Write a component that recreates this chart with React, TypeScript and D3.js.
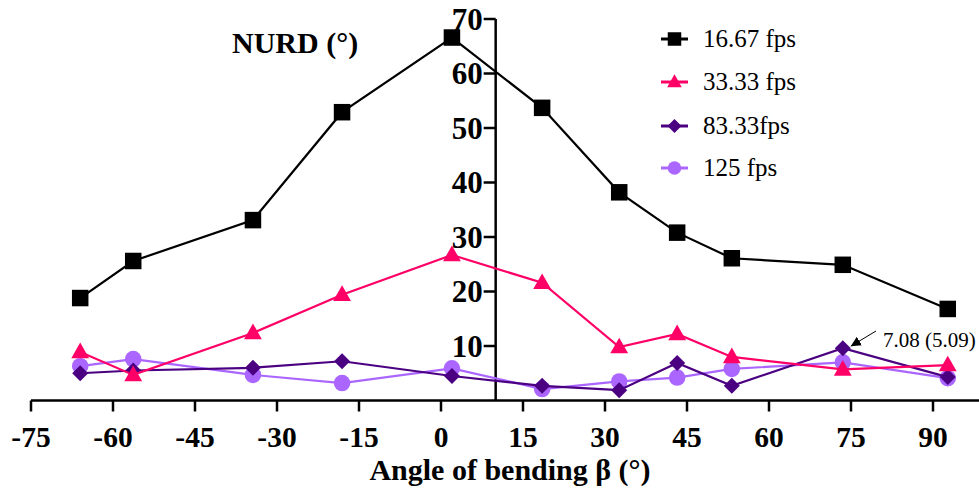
import React from "react";
import * as d3 from "d3";

const angles = [-66, -56.3, -34.4, -18.1, 2, 18.5, 32.6, 43.2, 53.2, 73.5, 92.7];
const fps16 = [18.8, 25.6, 33.1, 52.9, 66.6, 53.7, 38.2, 30.8, 26.1, 24.9, 16.8];
const fps33 = [8.9, 4.7, 12.4, 19.4, 26.7, 21.6, 9.8, 12.2, 8.0, 5.7, 6.5];
const fps83 = [5.0, 5.5, 6.0, 7.2, 4.5, 2.7, 1.9, 6.9, 2.7, 9.6, 4.3];
const fps125 = [6.3, 7.6, 4.7, 3.2, 5.9, 2.1, 3.5, 4.2, 5.8, 7.0, 4.1];
const xTicks = [-75, -60, -45, -30, -15, 0, 15, 30, 45, 60, 75, 90];
const yTicks = [10, 20, 30, 40, 50, 60, 70];
const seriesNames = ["16.67 fps", "33.33 fps", "83.33fps", "125 fps"];
const annotationText = "7.08 (5.09)";

const FONT = "'Liberation Serif', 'Times New Roman', serif";

type Series = { name: string; values: number[]; color: string; shape: string };

const series: Series[] = [
  { name: seriesNames[0], values: fps16, color: "#000000", shape: "square" },
  { name: seriesNames[1], values: fps33, color: "#FF0066", shape: "triangle" },
  { name: seriesNames[2], values: fps83, color: "#4B0082", shape: "diamond" },
  { name: seriesNames[3], values: fps125, color: "#AA66FF", shape: "circle" },
];

function Marker({ shape, x, y, color, s }: { shape: string; x: number; y: number; color: string; s: number }) {
  if (shape === "square") return <rect x={x - s / 2} y={y - s / 2} width={s} height={s} fill={color} />;
  if (shape === "triangle") {
    const w = s * 1.08;
    const h = s * 0.95;
    return <path d={`M${x},${y - h * 0.6} L${x + w / 2},${y + h * 0.4} L${x - w / 2},${y + h * 0.4} Z`} fill={color} />;
  }
  if (shape === "diamond") {
    const r = s * 0.5;
    return <path d={`M${x},${y - r} L${x + r},${y} L${x},${y + r} L${x - r},${y} Z`} fill={color} />;
  }
  return <circle cx={x} cy={y} r={s / 2} fill={color} />;
}

export default function App() {
  const x = d3.scaleLinear().domain([-75, 90]).range([31, 933]);
  const y = d3.scaleLinear().domain([0, 70]).range([400.5, 19]);
  const axisY = y(0);
  const yAxisX = x(10);
  const line = d3
    .line<number>()
    .x((_, i) => x(angles[i]))
    .y((d) => y(d));

  const order = [...series].reverse();
  const legendY = [39, 82, 126, 168];

  const annX = x(angles[9]);
  const annY = y(fps83[9]);

  return (
    <svg
      width={979}
      height={490}
      style={{ position: "absolute", left: 0, top: 0, background: "#fff" }}
      fontFamily={FONT}
    >
      <defs>
        <marker id="arrowhead" viewBox="0 0 10 10" refX="10" refY="5" markerWidth="10" markerHeight="10" orient="auto" markerUnits="userSpaceOnUse">
          <path d="M0,0 L10,5 L0,10 Z" fill="#000" />
        </marker>
      </defs>

      {/* x axis */}
      <line x1={x(-75)} x2={979} y1={axisY} y2={axisY} stroke="#000" strokeWidth={2.5} />
      {xTicks.map((t) => (
        <g key={t}>
          <line x1={x(t)} x2={x(t)} y1={axisY} y2={axisY + 11} stroke="#000" strokeWidth={2.5} />
          <text x={x(t)} y={447} textAnchor="middle" fontSize={29.5} fontWeight="bold">
            {t}
          </text>
        </g>
      ))}
      <text x={510} y={480} textAnchor="middle" fontSize={30} fontWeight="bold">
        Angle of bending β (°)
      </text>

      {/* y axis */}
      <line x1={yAxisX} x2={yAxisX} y1={axisY} y2={y(70)} stroke="#000" strokeWidth={2.5} />
      {yTicks.map((t) => (
        <g key={t}>
          <line x1={yAxisX - 12} x2={yAxisX} y1={y(t)} y2={y(t)} stroke="#000" strokeWidth={2.5} />
          <text x={yAxisX - 13} y={y(t)} dy="0.35em" textAnchor="end" fontSize={31} fontWeight="bold">
            {t}
          </text>
        </g>
      ))}
      <text x={232} y={53} fontSize={30} fontWeight="bold">
        NURD (°)
      </text>

      {/* series */}
      {order.map((s) => (
        <g key={s.name}>
          <path d={line(s.values) || ""} fill="none" stroke={s.color} strokeWidth={2.2} />
          {s.values.map((v, i) => (
            <Marker key={i} shape={s.shape} x={x(angles[i])} y={y(v)} color={s.color} s={s.shape === "diamond" ? 16 : 16.5} />
          ))}
        </g>
      ))}

      {/* annotation */}
      <line x1={876} y1={331} x2={annX + 8} y2={annY - 2} stroke="#000" strokeWidth={1} markerEnd="url(#arrowhead)" />
      <text x={883} y={347} fontSize={21}>
        {annotationText}
      </text>

      {/* legend */}
      {series.map((s, i) => (
        <g key={s.name}>
          <line x1={661} x2={688} y1={legendY[i]} y2={legendY[i]} stroke={s.color} strokeWidth={3} />
          <Marker shape={s.shape} x={674.5} y={legendY[i]} color={s.color} s={s.shape === "diamond" ? 14 : 13.5} />
          <text x={703} y={legendY[i]} dy="0.33em" fontSize={25}>
            {s.name}
          </text>
        </g>
      ))}
    </svg>
  );
}
